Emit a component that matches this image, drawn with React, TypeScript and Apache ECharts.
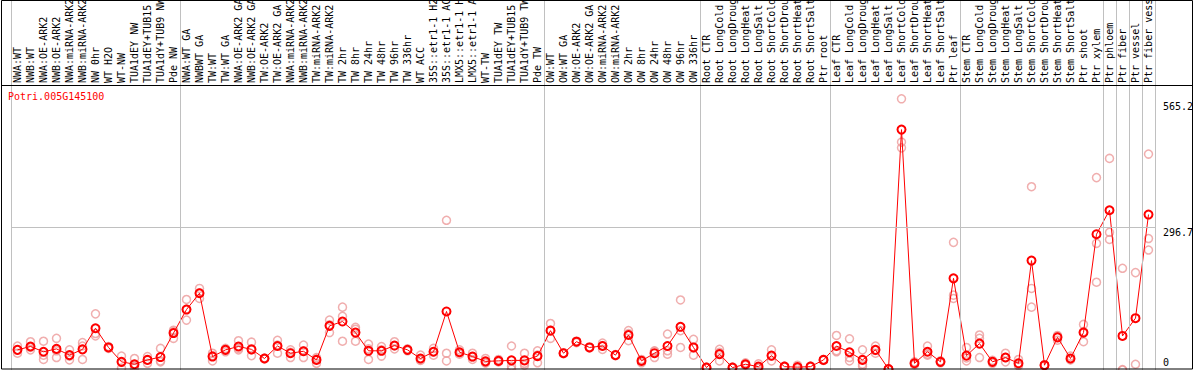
import React, { useEffect, useRef } from "react";
import * as echarts from "echarts";

const geneId = "Potri.005G145100";

const categories: string[] = [
  "NWA:WT", "NWB:WT", "NWA:OE-ARK2", "NWB:OE-ARK2", "NWA:miRNA-ARK2", "NWB:miRNA-ARK2",
  "NW 0hr", "WT H2O", "WT-NW", "TUA1dEY NW", "TUA1dEY+TUB15", "TUA1dY+TUB9 NW", "Pde NW",
  "NWA:WT GA", "NWBWT GA", "TW:WT", "TW:WT GA", "NWA:OE-ARK2 GA", "NWB:OE-ARK2 GA",
  "TW:OE-ARK2", "TW:OE-ARK2 GA", "NWA:miRNA-ARK2", "NWB:miRNA-ARK2", "TW:miRNA-ARK2",
  "TW:miRNA-ARK2", "TW 2hr", "TW 8hr", "TW 24hr", "TW 48hr", "TW 96hr", "TW 336hr",
  "WT ACC", "35S::etr1-1 H2", "35S::etr1-1 AC", "LMX5::etr1-1 H", "LMX5::etr1-1 A",
  "WT-TW", "TUA1dEY TW", "TUA1dEY+TUB15", "TUA1dY+TUB9 TW", "Pde TW",
  "OW:WT", "OW:WT GA", "OW:OE-ARK2", "OW:OE-ARK2 GA", "OW:miRNA-ARK2", "OW:miRNA-ARK2",
  "OW 2hr", "OW 8hr", "OW 24hr", "OW 48hr", "OW 96hr", "OW 336hr",
  "Root CTR", "Root LongCold", "Root LongDroug", "Root LongHeat", "Root LongSalt",
  "Root ShortCold", "Root ShortDrou", "Root ShortHeat", "Root ShortSalt", "Ptr root",
  "Leaf CTR", "Leaf LongCold", "Leaf LongDroug", "Leaf LongHeat", "Leaf LongSalt",
  "Leaf ShortCold", "Leaf ShortDrou", "Leaf ShortHeat", "Leaf ShortSalt", "Ptr leaf",
  "Stem CTR", "Stem LongCold", "Stem LongDroug", "Stem LongHeat", "Stem LongSalt",
  "Stem ShortCold", "Stem ShortDrou", "Stem ShortHeat", "Stem ShortSalt", "Ptr shoot",
  "Ptr xylem", "Ptr phloem", "Ptr fiber", "Ptr vessel", "Ptr fiber vessel",
];

const meanValues: number[] = [
  42, 49, 38, 44, 31, 43, 87, 47, 17, 12, 21, 27, 77,
  126, 160, 28, 42, 49, 43, 24, 50, 35, 39, 21, 92, 101, 78, 40, 40, 51, 42, 24, 38,
  122, 37, 28, 18, 19, 20, 20, 29,
  82, 35, 59, 47, 50, 31, 73, 19, 35, 50, 90, 47,
  5, 33, 5, 12, 7, 30, 7, 6, 7, 21,
  50, 37, 21, 42, 2, 501, 14, 38, 17, 191,
  30, 55, 17, 26, 14, 228, 10, 68, 24, 78, 283,
  333, 71, 108, 324,
];

const replicates: number[][] = [
  [50, 35, 42], [59, 42, 47], [60, 31, 22], [66, 26, 40], [42, 29, 21], [57, 50, 22],
  [117, 71, 76], [49, 45, 47], [29, 16, 4], [24, 8, 4], [28, 14, 21], [45, 19, 17],
  [83, 66, 80],
  [147, 104, 127], [170, 149, 161], [35, 19, 30], [45, 38, 43], [61, 42, 45], [58, 30, 42],
  [25, 23, 24], [62, 35, 52], [42, 26, 37], [52, 26, 40], [26, 14, 23], [104, 78, 94],
  [131, 60, 112], [89, 60, 85], [54, 22, 44], [49, 29, 42], [59, 44, 50], [44, 40, 42],
  [31, 21, 20], [45, 31, 38], [312, 35, 19], [42, 33, 36], [35, 22, 27], [24, 15, 15],
  [22, 17, 18], [50, 8, 2], [35, 14, 10], [40, 15, 31],
  [97, 66, 83], [36, 34, 35], [60, 57, 60], [48, 46, 47], [56, 43, 51], [32, 30, 31],
  [82, 61, 76], [22, 15, 20], [40, 26, 39], [75, 40, 33], [146, 82, 47], [64, 31, 46],
  [6, 4, 5], [43, 19, 37], [6, 4, 5], [15, 10, 11], [13, 4, 4], [42, 19, 29],
  [8, 6, 7], [10, 3, 5], [8, 6, 7], [22, 20, 21],
  [72, 38, 40], [65, 26, 19], [42, 12, 8], [50, 35, 41], [2, 1, 3], [565.2, 475, 463],
  [17, 11, 14], [50, 33, 31], [19, 15, 17], [266, 156, 149],
  [47, 19, 25], [73, 66, 26], [20, 14, 17], [35, 17, 26], [22, 11, 9], [382, 170, 131],
  [11, 9, 10], [62, 72, 70], [29, 21, 22], [95, 59, 80], [401, 264, 183],
  [441, 287, 272], [212, 1, 0], [203, 12], [450, 274, 250],
];

// category indices where group separators are drawn
const groupBoundaries: number[] = [0, 13, 41, 53, 63, 73, 84, 85, 86, 87, 88];

const yTickValues: number[] = [0, 296.7, 565.2];
const yMax = 594;
const gridLineValue = 296.7;

const MONO = "DejaVu Sans Mono";

export default function App() {
  const ref = useRef<HTMLDivElement>(null);

  useEffect(() => {
    document.body.style.margin = "0";
    if (!ref.current) return;
    const chart = echarts.init(ref.current, undefined, { renderer: "svg" });

    const repData: number[][] = [];
    replicates.forEach((reps, i) => reps.forEach((v) => repData.push([i, v])));

    const option: any = {
      animation: false,
      backgroundColor: "#ffffff",
      title: {
        text: geneId,
        left: 8,
        top: 91,
        padding: 0,
        textStyle: { color: "#ff0000", fontSize: 10, fontFamily: MONO, fontWeight: "normal" },
      },
      grid: [
        { left: 11, right: 39, top: 85, bottom: 0, containLabel: false, outerBoundsMode: "none" },
        { left: 11, right: 39, top: 0, bottom: 0, containLabel: false, outerBoundsMode: "none" },
      ],
      xAxis: [
        {
          type: "category",
          gridIndex: 0,
          position: "top",
          data: categories,
          axisLine: { show: false },
          axisTick: { show: false },
          splitLine: { show: false },
          axisLabel: {
            interval: 0,
            rotate: 90,
            margin: 2,
            color: "#000",
            fontSize: 10,
            fontFamily: MONO,
            hideOverlap: false,
          },
        },
        { type: "value", gridIndex: 1, min: 0, max: categories.length, show: false },
      ],
      yAxis: [
        {
          type: "value",
          gridIndex: 0,
          min: 0,
          max: yMax,
          position: "right",
          axisLine: { show: false },
          axisTick: { show: false },
          splitLine: { show: false },
          axisLabel: {
            customValues: yTickValues,
            margin: 8,
            formatter: (v: number) => {
              if (v === 0) return "{b|0}";
              if (v > 400) return "{t|" + v + "}";
              return "{m|" + v + "}";
            },
            rich: {
              b: { fontFamily: MONO, fontSize: 10, color: "#000", padding: [0, 0, 15, 0] },
              t: { fontFamily: MONO, fontSize: 10, color: "#000", padding: [16, 0, 0, 0] },
              m: { fontFamily: MONO, fontSize: 10, color: "#000", padding: [9, 0, 0, 0] },
            },
          },
        },
        { type: "value", gridIndex: 1, min: 0, max: 1, show: false },
      ],
      series: [
        {
          type: "line",
          xAxisIndex: 1,
          yAxisIndex: 1,
          data: [],
          silent: true,
          markLine: {
            silent: true,
            symbol: "none",
            label: { show: false },
            lineStyle: { color: "#c0c0c0", width: 1, type: "solid" },
            data: groupBoundaries.map((b) => ({ xAxis: b })),
          },
        },
        {
          type: "scatter",
          xAxisIndex: 0,
          yAxisIndex: 0,
          data: repData,
          symbol: "circle",
          symbolSize: 8,
          silent: true,
          itemStyle: { color: "rgba(0,0,0,0)", borderColor: "#ec9a9a", borderWidth: 1.5 },
          markLine: {
            silent: true,
            symbol: "none",
            label: { show: false },
            lineStyle: { color: "#c0c0c0", width: 1, type: "solid" },
            data: [{ yAxis: gridLineValue }],
          },
        },
        {
          type: "line",
          xAxisIndex: 0,
          yAxisIndex: 0,
          data: meanValues,
          symbol: "circle",
          symbolSize: 8,
          showAllSymbol: true,
          silent: true,
          lineStyle: { color: "#ff0000", width: 1 },
          itemStyle: { color: "rgba(0,0,0,0)", borderColor: "#ff0000", borderWidth: 2 },
        },
      ],
      graphic: [
        {
          type: "rect",
          silent: true,
          z: 100,
          shape: { x: 1.5, y: 0.5, width: 1191, height: 368.5 },
          style: { fill: "none", stroke: "#000", lineWidth: 1 },
        },
        {
          type: "line",
          silent: true,
          z: 100,
          shape: { x1: 1, y1: 85.5, x2: 1193, y2: 85.5 },
          style: { stroke: "#000", lineWidth: 1 },
        },
      ],
    };

    chart.setOption(option);
    return () => chart.dispose();
  }, []);

  return <div ref={ref} style={{ width: 1194, height: 370 }} />;
}
